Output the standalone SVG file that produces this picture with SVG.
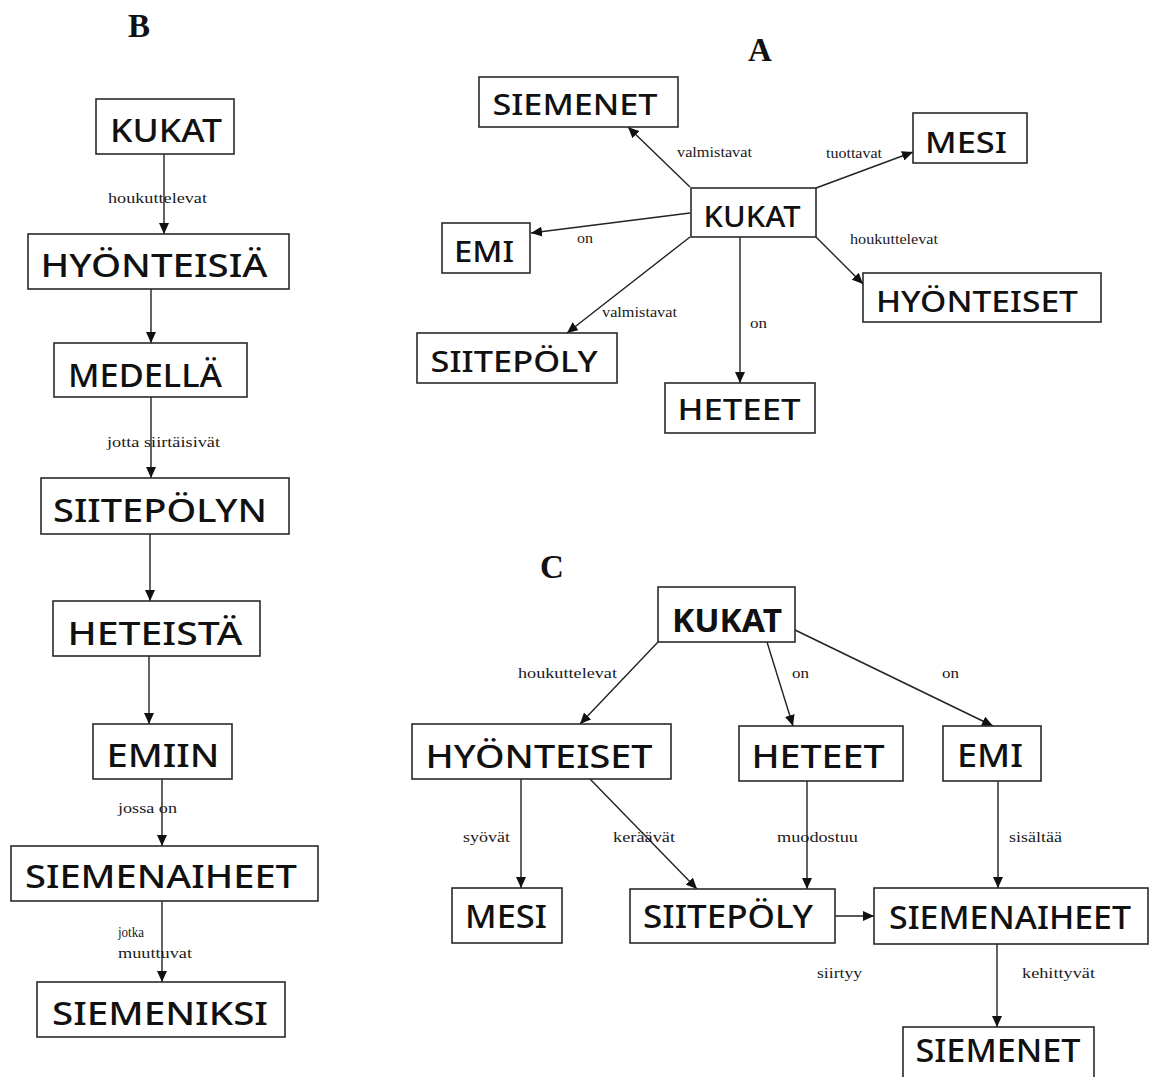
<svg xmlns="http://www.w3.org/2000/svg" width="1155" height="1077" viewBox="0 0 1155 1077">
  <style>
    .box { fill: #ffffff; stroke: #2a2a2a; stroke-width: 1.6; }
    .nb { font-family: "Noto Sans", "DejaVu Sans", sans-serif; font-size: 33px; font-weight: 500; fill: #111; text-anchor: middle; }
    .na { font-family: "Noto Sans", "DejaVu Sans", sans-serif; font-size: 28px; font-weight: 500; fill: #111; text-anchor: middle; }
    .bold { font-weight: 700; }
    .lbl { font-family: "Liberation Serif", "Times New Roman", serif; font-size: 15px; fill: #1a1a1a; }
    .title { font-family: "Liberation Serif", "Times New Roman", serif; font-weight: 700; font-size: 33px; fill: #111; text-anchor: middle; }
    .edge { stroke: #222; stroke-width: 1.4; fill: none; marker-end: url(#arrow); }
  </style>
  <defs>
    <marker id="arrow" markerUnits="userSpaceOnUse" markerWidth="12" markerHeight="10" refX="11" refY="5" orient="auto">
      <path d="M0,0 L11,5 L0,10 z" fill="#111"/>
    </marker>
  </defs>
  <rect width="1155" height="1077" fill="#ffffff"/>

  <!-- panel titles -->
  <text class="title" x="139" y="37">B</text>
  <text class="title" x="760" y="61">A</text>
  <text class="title" x="552" y="578">C</text>

  <!-- connectors -->
  <g id="connectors">
    <!-- panel B chain -->
    <line class="edge" x1="164" y1="154" x2="164" y2="234"/>
    <line class="edge" x1="151" y1="289" x2="151" y2="343"/>
    <line class="edge" x1="151" y1="397" x2="151" y2="478"/>
    <line class="edge" x1="150" y1="534" x2="150" y2="601"/>
    <line class="edge" x1="149" y1="656" x2="149" y2="724"/>
    <line class="edge" x1="162" y1="779" x2="162" y2="846"/>
    <line class="edge" x1="162" y1="901" x2="162" y2="982"/>
    <!-- panel A star -->
    <line class="edge" x1="690" y1="187" x2="628" y2="127"/>
    <line class="edge" x1="690" y1="213" x2="531" y2="233"/>
    <line class="edge" x1="690" y1="237" x2="567" y2="333"/>
    <line class="edge" x1="740" y1="237" x2="740" y2="383"/>
    <line class="edge" x1="816" y1="188" x2="913" y2="152"/>
    <line class="edge" x1="816" y1="237" x2="863" y2="284"/>
    <!-- panel C -->
    <line class="edge" x1="658" y1="642" x2="580" y2="724"/>
    <line class="edge" x1="767" y1="642" x2="793" y2="726"/>
    <line class="edge" x1="795" y1="630" x2="993" y2="726"/>
    <line class="edge" x1="521" y1="779" x2="521" y2="888"/>
    <line class="edge" x1="590" y1="779" x2="697" y2="889"/>
    <line class="edge" x1="807" y1="781" x2="807" y2="889"/>
    <line class="edge" x1="998" y1="781" x2="998" y2="888"/>
    <line class="edge" x1="835" y1="916" x2="874" y2="916"/>
    <line class="edge" x1="997" y1="944" x2="997" y2="1027"/>

    <!-- connector labels, panel B -->
    <text class="lbl" x="108" y="203" textLength="99" lengthAdjust="spacingAndGlyphs">houkuttelevat</text>
    <text class="lbl" x="107" y="447" textLength="113" lengthAdjust="spacingAndGlyphs">jotta siirtäisivät</text>
    <text class="lbl" x="118" y="813" textLength="59" lengthAdjust="spacingAndGlyphs">jossa on</text>
    <text class="lbl" x="118" y="937" textLength="26" lengthAdjust="spacingAndGlyphs">jotka</text>
    <text class="lbl" x="118" y="958" textLength="74" lengthAdjust="spacingAndGlyphs">muuttuvat</text>
    <!-- connector labels, panel A -->
    <text class="lbl" x="677" y="157" textLength="75" lengthAdjust="spacingAndGlyphs">valmistavat</text>
    <text class="lbl" x="577" y="243" textLength="16" lengthAdjust="spacingAndGlyphs">on</text>
    <text class="lbl" x="602" y="317" textLength="75" lengthAdjust="spacingAndGlyphs">valmistavat</text>
    <text class="lbl" x="750" y="328" textLength="17" lengthAdjust="spacingAndGlyphs">on</text>
    <text class="lbl" x="826" y="158" textLength="56" lengthAdjust="spacingAndGlyphs">tuottavat</text>
    <text class="lbl" x="850" y="244" textLength="88" lengthAdjust="spacingAndGlyphs">houkuttelevat</text>
    <!-- connector labels, panel C -->
    <text class="lbl" x="518" y="678" textLength="99" lengthAdjust="spacingAndGlyphs">houkuttelevat</text>
    <text class="lbl" x="792" y="678" textLength="17" lengthAdjust="spacingAndGlyphs">on</text>
    <text class="lbl" x="942" y="678" textLength="17" lengthAdjust="spacingAndGlyphs">on</text>
    <text class="lbl" x="463" y="842" textLength="47" lengthAdjust="spacingAndGlyphs">syövät</text>
    <text class="lbl" x="613" y="842" textLength="62" lengthAdjust="spacingAndGlyphs">keräävät</text>
    <text class="lbl" x="777" y="842" textLength="81" lengthAdjust="spacingAndGlyphs">muodostuu</text>
    <text class="lbl" x="1009" y="842" textLength="53" lengthAdjust="spacingAndGlyphs">sisältää</text>
    <text class="lbl" x="817" y="978" textLength="45" lengthAdjust="spacingAndGlyphs">siirtyy</text>
    <text class="lbl" x="1022" y="978" textLength="73" lengthAdjust="spacingAndGlyphs">kehittyvät</text>
  </g>

  <!-- panel B nodes -->
  <g id="b-kukat"><rect class="box" x="96" y="99" width="138" height="55"/><text class="nb" x="166" y="142" textLength="112" lengthAdjust="spacingAndGlyphs">KUKAT</text></g>
  <g id="b-hyonteisia"><rect class="box" x="28" y="234" width="261" height="55"/><text class="nb" x="154" y="277" textLength="227" lengthAdjust="spacingAndGlyphs">HYÖNTEISIÄ</text></g>
  <g id="b-medella"><rect class="box" x="54" y="343" width="193" height="54"/><text class="nb" x="145" y="387" textLength="154" lengthAdjust="spacingAndGlyphs">MEDELLÄ</text></g>
  <g id="b-siitepolyn"><rect class="box" x="41" y="478" width="248" height="56"/><text class="nb" x="160" y="522" textLength="214" lengthAdjust="spacingAndGlyphs">SIITEPÖLYN</text></g>
  <g id="b-heteista"><rect class="box" x="53" y="601" width="207" height="55"/><text class="nb" x="155" y="645" textLength="175" lengthAdjust="spacingAndGlyphs">HETEISTÄ</text></g>
  <g id="b-emiin"><rect class="box" x="93" y="724" width="139" height="55"/><text class="nb" x="163" y="767" textLength="113" lengthAdjust="spacingAndGlyphs">EMIIN</text></g>
  <g id="b-siemenaiheet"><rect class="box" x="11" y="846" width="307" height="55"/><text class="nb" x="161" y="888" textLength="272" lengthAdjust="spacingAndGlyphs">SIEMENAIHEET</text></g>
  <g id="b-siemeniksi"><rect class="box" x="37" y="982" width="248" height="55"/><text class="nb" x="160" y="1025" textLength="216" lengthAdjust="spacingAndGlyphs">SIEMENIKSI</text></g>

  <!-- panel A nodes -->
  <g id="a-siemenet"><rect class="box" x="479" y="77" width="199" height="50"/><text class="na" x="575" y="115" textLength="165" lengthAdjust="spacingAndGlyphs">SIEMENET</text></g>
  <g id="a-kukat"><rect class="box" x="691" y="188" width="125" height="49"/><text class="na" x="752" y="227" textLength="97" lengthAdjust="spacingAndGlyphs">KUKAT</text></g>
  <g id="a-emi"><rect class="box" x="442" y="223" width="88" height="50"/><text class="na" x="484" y="262" textLength="60" lengthAdjust="spacingAndGlyphs">EMI</text></g>
  <g id="a-siitepoly"><rect class="box" x="417" y="333" width="200" height="50"/><text class="na" x="514" y="372" textLength="167" lengthAdjust="spacingAndGlyphs">SIITEPÖLY</text></g>
  <g id="a-heteet"><rect class="box" x="665" y="383" width="150" height="50"/><text class="na" x="739" y="420" textLength="123" lengthAdjust="spacingAndGlyphs">HETEET</text></g>
  <g id="a-mesi"><rect class="box" x="913" y="113" width="114" height="50"/><text class="na" x="966" y="153" textLength="82" lengthAdjust="spacingAndGlyphs">MESI</text></g>
  <g id="a-hyonteiset"><rect class="box" x="863" y="273" width="238" height="49"/><text class="na" x="977" y="312" textLength="202" lengthAdjust="spacingAndGlyphs">HYÖNTEISET</text></g>

  <!-- panel C nodes -->
  <g id="c-kukat"><rect class="box" x="658" y="587" width="137" height="55"/><text class="nb bold" x="727" y="632" textLength="110" lengthAdjust="spacingAndGlyphs">KUKAT</text></g>
  <g id="c-hyonteiset"><rect class="box" x="412" y="724" width="259" height="55"/><text class="nb" x="539" y="768" textLength="227" lengthAdjust="spacingAndGlyphs">HYÖNTEISET</text></g>
  <g id="c-heteet"><rect class="box" x="739" y="726" width="164" height="55"/><text class="nb" x="818" y="768" textLength="133" lengthAdjust="spacingAndGlyphs">HETEET</text></g>
  <g id="c-emi"><rect class="box" x="943" y="726" width="98" height="55"/><text class="nb" x="990" y="767" textLength="66" lengthAdjust="spacingAndGlyphs">EMI</text></g>
  <g id="c-mesi"><rect class="box" x="452" y="888" width="110" height="55"/><text class="nb" x="506" y="928" textLength="82" lengthAdjust="spacingAndGlyphs">MESI</text></g>
  <g id="c-siitepoly"><rect class="box" x="630" y="889" width="205" height="54"/><text class="nb" x="728" y="928" textLength="170" lengthAdjust="spacingAndGlyphs">SIITEPÖLY</text></g>
  <g id="c-siemenaiheet"><rect class="box" x="874" y="888" width="274" height="56"/><text class="nb" x="1010" y="929" textLength="242" lengthAdjust="spacingAndGlyphs">SIEMENAIHEET</text></g>
  <g id="c-siemenet"><rect class="box" x="903" y="1027" width="191" height="56"/><text class="nb" x="998" y="1062" textLength="165" lengthAdjust="spacingAndGlyphs">SIEMENET</text></g>
</svg>
